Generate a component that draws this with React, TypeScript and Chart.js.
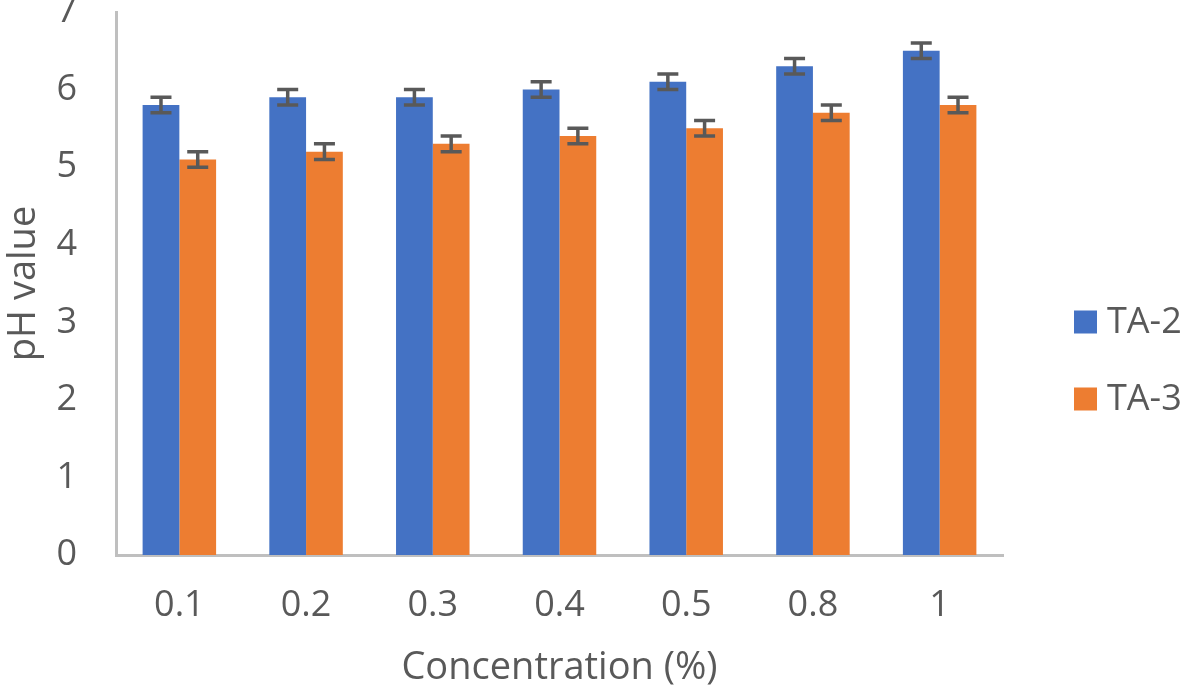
import React, { useEffect, useRef } from "react";
import { Chart, registerables } from "chart.js";

Chart.register(...registerables);

const categories = ["0.1", "0.2", "0.3", "0.4", "0.5", "0.8", "1"];
const ta2Values = [5.8, 5.9, 5.9, 6.0, 6.1, 6.3, 6.5];
const ta3Values = [5.1, 5.2, 5.3, 5.4, 5.5, 5.7, 5.8];
const ta2Errors = [0.1, 0.1, 0.1, 0.1, 0.1, 0.1, 0.1];
const ta3Errors = [0.1, 0.1, 0.1, 0.1, 0.1, 0.1, 0.1];
const yTicks = [0, 1, 2, 3, 4, 5, 6, 7];

const FONT = "'Open Sans', 'DejaVu Sans', sans-serif";
const TEXT = "#595959";
const AXIS = "#bfbfbf";

const errorBarPlugin = {
  id: "errorBars",
  afterDatasetsDraw(chart: any) {
    const { ctx } = chart;
    const yScale = chart.scales.y;
    chart.data.datasets.forEach((ds: any, di: number) => {
      const meta = chart.getDatasetMeta(di);
      const errs: number[] = ds.errors || [];
      meta.data.forEach((bar: any, i: number) => {
        const v = ds.data[i];
        const e = errs[i] || 0;
        const yHi = yScale.getPixelForValue(v + e);
        const yLo = yScale.getPixelForValue(v - e);
        const x = bar.x;
        const cap = 10.5;
        ctx.save();
        ctx.strokeStyle = TEXT;
        ctx.lineWidth = 3.5;
        ctx.beginPath();
        ctx.moveTo(x, yHi);
        ctx.lineTo(x, yLo);
        ctx.moveTo(x - cap, yHi);
        ctx.lineTo(x + cap, yHi);
        ctx.moveTo(x - cap, yLo);
        ctx.lineTo(x + cap, yLo);
        ctx.stroke();
        ctx.restore();
      });
    });
  },
};

const legendPlugin = {
  id: "customLegend",
  afterDraw(chart: any) {
    const { ctx } = chart;
    const x0 = 1074;
    const size = 23;
    const startY = 322;
    const gap = 77;
    chart.data.datasets.forEach((ds: any, i: number) => {
      const cy = startY + i * gap;
      ctx.save();
      ctx.fillStyle = ds.backgroundColor;
      ctx.fillRect(x0, cy - size / 2, size, size);
      ctx.fillStyle = TEXT;
      ctx.font = `36px ${FONT}`;
      ctx.textBaseline = "middle";
      ctx.textAlign = "left";
      ctx.fillText(ds.label, x0 + 33, cy + 1);
      ctx.restore();
    });
  },
};

export default function App() {
  const canvasRef = useRef<HTMLCanvasElement | null>(null);

  useEffect(() => {
    if (!canvasRef.current) return;
    const chart = new Chart(canvasRef.current, {
      type: "bar",
      data: {
        labels: categories,
        datasets: [
          {
            label: "TA-2",
            data: ta2Values,
            errors: ta2Errors,
            backgroundColor: "#4472C4",
            borderWidth: 0,
          } as any,
          {
            label: "TA-3",
            data: ta3Values,
            errors: ta3Errors,
            backgroundColor: "#ED7D31",
            borderWidth: 0,
          } as any,
        ],
      },
      options: {
        responsive: false,
        animation: false,
        devicePixelRatio: 1,
        layout: { padding: { top: 12, right: 178, left: 0, bottom: 0 } },
        datasets: {
          bar: { categoryPercentage: 0.58, barPercentage: 1 },
        },
        plugins: {
          legend: { display: false },
          tooltip: { enabled: false },
        },
        scales: {
          x: {
            grid: { display: false, drawTicks: false },
            border: { display: true, color: AXIS, width: 3 },
            ticks: {
              color: TEXT,
              font: { family: FONT, size: 36 },
              padding: 29,
            },
            title: {
              display: true,
              text: "Concentration (%)",
              color: TEXT,
              font: { family: FONT, size: 38 },
              padding: { top: 0, bottom: 6 },
            },
            afterFit(scale: any) {
              scale.height = 142;
              scale.paddingLeft = 0;
              scale.paddingRight = 0;
            },
          },
          y: {
            min: 0,
            max: 7,
            afterBuildTicks(scale: any) {
              scale.ticks = yTicks.map((v) => ({ value: v }));
            },
            grid: { display: false, drawTicks: false },
            border: { display: true, color: AXIS, width: 3 },
            ticks: {
              color: TEXT,
              font: { family: FONT, size: 36 },
              padding: 39,
            },
            title: {
              display: true,
              text: "pH value",
              color: TEXT,
              font: { family: FONT, size: 38 },
              padding: { top: 1, bottom: 0 },
            },
            afterFit(scale: any) {
              scale.width = 116;
              scale.paddingTop = 0;
              scale.paddingBottom = 0;
            },
          },
        },
      },
      plugins: [errorBarPlugin, legendPlugin],
    } as any);
    return () => chart.destroy();
  }, []);

  return (
    <div style={{ position: "absolute", left: 0, top: 0, width: 1181, height: 697, background: "#fff" }}>
      <canvas ref={canvasRef} width={1181} height={697} style={{ display: "block" }} />
    </div>
  );
}
